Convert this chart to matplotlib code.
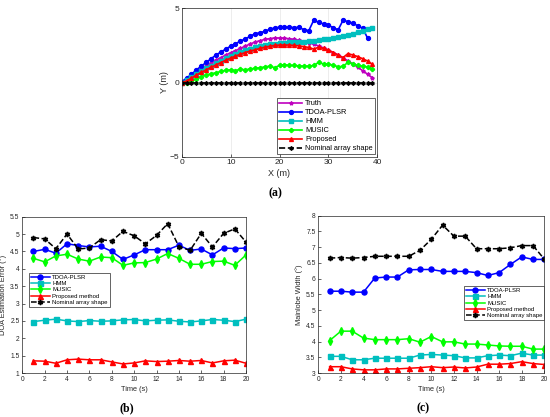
import numpy as np
import matplotlib
matplotlib.use('Agg')
from matplotlib import pyplot as plt

plt.rcParams['font.family'] = ['Liberation Sans', 'DejaVu Sans']

# ---- (a) array shape estimates ----
x_pos = list(range(40))
truth = [0, 0.2, 0.45, 0.7, 0.9, 1.1, 1.3, 1.5, 1.68, 1.85, 2.0, 2.15, 2.3, 2.45, 2.6, 2.72,
         2.82, 2.9, 2.96, 3.0, 3.0, 2.98, 2.95, 2.9, 2.84, 2.76, 2.68, 2.58, 2.46, 2.33, 2.18,
         2.02, 1.85, 1.66, 1.46, 1.25, 1.03, 0.8, 0.56, 0.32]
tdoa_xy = [0.05, 0.3, 0.55, 0.85, 1.1, 1.35, 1.6, 1.85, 2.05, 2.25, 2.45, 2.62, 2.78, 2.95,
           3.1, 3.3, 3.35, 3.45, 3.58, 3.68, 3.72, 3.72, 3.72, 3.7, 3.72, 3.55, 3.5, 4.2,
           4.05, 3.95, 3.85, 3.7, 3.55, 4.2, 4.1, 4.0, 3.82, 3.66, 3.0]
hmm_xy = [0, 0.15, 0.35, 0.55, 0.75, 0.95, 1.12, 1.3, 1.47, 1.62, 1.78, 1.92, 2.05, 2.17,
          2.28, 2.38, 2.46, 2.53, 2.58, 2.62, 2.65, 2.68, 2.7, 2.72, 2.74, 2.76, 2.78, 2.8,
          2.85, 2.9, 2.96, 3.02, 3.08, 3.15, 3.22, 3.3, 3.4, 3.5, 3.6, 3.7]
music_xy = [0, 0.0, 0.1, 0.25, 0.4, 0.5, 0.6, 0.65, 0.75, 0.82, 0.85, 0.8, 0.9, 0.85, 0.92,
            0.95, 1.0, 1.05, 1.1, 1.0, 1.15, 1.2, 1.15, 1.15, 1.12, 1.1, 1.1, 1.15, 1.35,
            1.25, 1.22, 1.18, 1.05, 1.1, 1.35, 1.25, 1.15, 1.1, 1.05, 0.9]
prop_xy = [0, 0.1, 0.3, 0.5, 0.68, 0.85, 1.02, 1.18, 1.34, 1.5, 1.64, 1.78, 1.9, 2.02, 2.12,
           2.2, 2.3, 2.38, 2.44, 2.5, 2.52, 2.53, 2.52, 2.5, 2.47, 2.42, 2.36, 2.25, 2.38,
           2.3, 2.18, 2.02, 1.85, 1.68, 1.95, 1.85, 1.75, 1.6, 1.45, 1.22]
nominal_xy = [0] * 40

# ---- (b) DOA estimation error, (c) mainlobe width ----
t = list(range(1, 21))
doa_tdoa = [4.5, 4.56, 4.45, 4.72, 4.67, 4.63, 4.65, 4.5, 4.27, 4.4, 4.55, 4.55, 4.55, 4.68,
            4.53, 4.57, 4.4, 4.6, 4.58, 4.6]
doa_hmm = [2.48, 2.52, 2.55, 2.5, 2.48, 2.51, 2.49, 2.5, 2.53, 2.54, 2.5, 2.52, 2.53, 2.49,
           2.47, 2.5, 2.54, 2.52, 2.48, 2.55]
doa_music = [4.3, 4.2, 4.37, 4.42, 4.28, 4.22, 4.34, 4.32, 4.1, 4.17, 4.18, 4.28, 4.44, 4.3,
             4.13, 4.13, 4.21, 4.22, 4.1, 4.4]
doa_prop = [1.35, 1.34, 1.28, 1.38, 1.4, 1.38, 1.38, 1.32, 1.26, 1.29, 1.35, 1.33, 1.34, 1.36,
            1.34, 1.36, 1.29, 1.35, 1.37, 1.28]
doa_nom = [4.9, 4.86, 4.58, 5.0, 4.57, 4.6, 4.84, 4.8, 5.08, 4.95, 4.72, 4.96, 5.3, 4.64,
           4.53, 5.02, 4.63, 5.02, 5.15, 4.77]

mw_tdoa = [5.6, 5.6, 5.57, 5.57, 6.02, 6.05, 6.05, 6.28, 6.29, 6.29, 6.23, 6.23, 6.23, 6.19,
           6.1, 6.19, 6.45, 6.69, 6.61, 6.61]
mw_hmm = [3.53, 3.53, 3.42, 3.42, 3.47, 3.47, 3.47, 3.47, 3.57, 3.59, 3.57, 3.55, 3.48, 3.48,
          3.55, 3.57, 3.55, 3.63, 3.57, 3.57]
mw_music = [4.03, 4.33, 4.33, 4.11, 4.06, 4.06, 4.06, 4.09, 3.98, 4.16, 3.99, 3.99, 3.92, 3.92,
            3.89, 3.86, 3.85, 3.85, 3.76, 3.76]
mw_prop = [3.2, 3.2, 3.13, 3.1, 3.1, 3.13, 3.13, 3.15, 3.17, 3.2, 3.17, 3.19, 3.16, 3.19, 3.28,
           3.28, 3.3, 3.36, 3.3, 3.27]
mw_nom = [6.65, 6.67, 6.65, 6.67, 6.71, 6.71, 6.71, 6.71, 6.9, 7.25, 7.7, 7.35, 7.35, 6.95,
          6.95, 6.95, 6.98, 7.05, 7.05, 6.62]

labels_a = ['Truth', 'TDOA-PLSR', 'HMM', 'MUSIC', 'Proposed', 'Nominal array shape']
labels_bc = ['TDOA-PLSR', 'HMM', 'MUSIC', 'Proposed method', 'Nominal array shape']

txt = '#262626'
hexagram = (6, 1, 0)

W, H = 550, 417
fig = plt.figure(figsize=(W / 100, H / 100), dpi=100)

def box(l, r, top, bot):
    return [l / W, 1 - bot / H, (r - l) / W, (bot - top) / H]

def style(ax, fs):
    ax.tick_params(direction='in', length=2, width=0.5, labelsize=fs, colors=txt, pad=2)
    for s in ax.spines.values():
        s.set_linewidth(0.5)
        s.set_color(txt)

# (a)
ax = fig.add_axes(box(181.7, 377.3, 8.3, 156.7))
kw = dict(lw=1.2, ms=2.8)
ax.plot(x_pos, truth, color='m', marker='*', label=labels_a[0], **kw)
ax.plot(x_pos[:len(tdoa_xy)], tdoa_xy, color='b', marker='o', label=labels_a[1], **kw)
ax.plot(x_pos, hmm_xy, color='c', marker='s', label=labels_a[2], **kw)
ax.plot(x_pos, music_xy, color='#00ff00', marker='P', label=labels_a[3], **kw)
ax.plot(x_pos, prop_xy, color='r', marker='^', label=labels_a[4], **kw)
ax.plot(x_pos, nominal_xy, color='k', ls='--', marker=hexagram, label=labels_a[5], **kw)
ax.set_xlim(0, 40)
ax.set_ylim(-5, 5)
ax.set_xticks([0, 10, 20, 30, 40])
ax.set_yticks([-5, 0, 5])
ax.grid(True, color='#e6e6e6', lw=0.5)
ax.set_axisbelow(True)
style(ax, 6)
ax.set_xlabel('X (m)', fontsize=6.5, color=txt, labelpad=2)
ax.set_ylabel('Y (m)', fontsize=6.5, color=txt, labelpad=0)
ax.legend(loc='lower right', fontsize=5.3, handlelength=3.2, borderaxespad=0.3,
          labelspacing=0.25, fancybox=False, edgecolor=txt, framealpha=1,
          borderpad=0.3, handletextpad=0.4).get_frame().set_linewidth(0.5)

# (b) and (c)
def bottom(ax, series, ylim, yticks, ylabel, anchor, loc):
    kw = dict(lw=1.1, ms=3.6)
    marks = ['o', 's', 'd', '^', hexagram]
    cols = ['b', 'c', '#00ff00', 'r', 'k']
    for i, y in enumerate(series):
        ax.plot(t, y, color=cols[i], marker=marks[i], ls='--' if i == 4 else '-',
                label=labels_bc[i], **kw)
    ax.set_xlim(0, 20)
    ax.set_ylim(*ylim)
    ax.set_xticks(range(0, 21, 2))
    ax.set_yticks(yticks)
    ax.set_yticklabels([('%g' % v) for v in yticks])
    style(ax, 4.8)
    ax.set_xlabel('Time (s)', fontsize=5.3, color=txt, labelpad=2)
    ax.set_ylabel(ylabel, fontsize=5.3, color=txt, labelpad=2)
    lg = ax.legend(loc=loc, bbox_to_anchor=anchor, fontsize=4.3, handlelength=3.2,
                   labelspacing=0.2, fancybox=False, edgecolor=txt, framealpha=1,
                   borderpad=0.3, handletextpad=0.4, borderaxespad=0)
    lg.get_frame().set_linewidth(0.5)

axb = fig.add_axes(box(22.3, 246, 216.7, 373))
bottom(axb, [doa_tdoa, doa_hmm, doa_music, doa_prop, doa_nom], (1, 5.5),
       np.arange(1, 5.51, 0.5), 'DOA Estimation Error (°)', (0.03, 0.642), 'upper left')

axc = fig.add_axes(box(318.3, 544.3, 215.7, 373))
bottom(axc, [mw_tdoa, mw_hmm, mw_music, mw_prop, mw_nom], (3, 8),
       np.arange(3, 8.01, 0.5), 'Mainlobe Width (°)', (1.0, 0.553), 'upper right')

cap = dict(fontsize=8.5, fontweight='bold', family=['Liberation Serif', 'DejaVu Serif'],
           ha='center', va='center')
fig.text(275 / W, 1 - 193 / H, '(a)', **cap)
fig.text(127 / W, 1 - 408 / H, '(b)', **cap)
fig.text(423.5 / W, 1 - 408 / H, '(c)', **cap)

fig.savefig('out.png', dpi=100)
